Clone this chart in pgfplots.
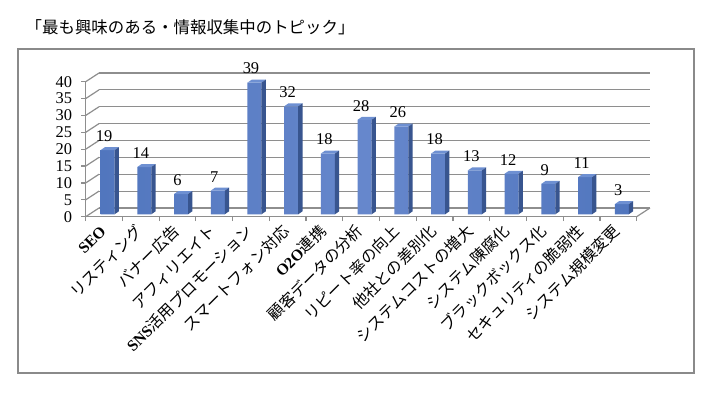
\documentclass[border=0pt]{standalone}
\usepackage{fontspec}
\setmainfont{Liberation Serif}
\newfontfamily\cjk{Noto Sans CJK JP}
\usepackage{pgfplots}
\pgfplotsset{compat=1.18}

\definecolor{barfront}{HTML}{5176BE}
\definecolor{barlight}{HTML}{6687CC}
\definecolor{barside}{HTML}{38558F}
\definecolor{bartop}{HTML}{6E90D2}
\definecolor{gridc}{HTML}{8E8E8E}
\definecolor{framec}{HTML}{8A8A8A}

% top and side faces of a 3D bar, drawn at the bar's data point
\pgfdeclareplotmark{bar3d}{%
  \pgfmathsetmacro\hh{\barh*3.375}%
  \pgfsetfillcolor{bartop}%
  \pgfpathmoveto{\pgfpoint{-3.5bp}{2.4bp}}%
  \pgfpathlineto{\pgfpoint{10.5bp}{2.4bp}}%
  \pgfpathlineto{\pgfpoint{14.8bp}{5.4bp}}%
  \pgfpathlineto{\pgfpoint{0.8bp}{5.4bp}}%
  \pgfpathclose
  \pgfusepath{fill}%
  \pgfsetfillcolor{barside}%
  \pgfpathmoveto{\pgfpoint{10.5bp}{2.4bp}}%
  \pgfpathlineto{\pgfpoint{14.8bp}{5.4bp}}%
  \pgfpathlineto{\pgfpoint{14.8bp}{5.4bp-\hh bp}}%
  \pgfpathlineto{\pgfpoint{10.5bp}{2.4bp-\hh bp}}%
  \pgfpathclose
  \pgfusepath{fill}%
}

\pgfplotstableread{
x y
0 19
1 14
2 6
3 7
4 39
5 32
6 18
7 28
8 26
9 18
10 13
11 12
12 9
13 11
14 3
}\datatab

\pgfplotsset{/pgf/number format/assume math mode=true}

\begin{document}
\begin{tikzpicture}
\useasboundingbox (0,0) rectangle (715bp,394bp);
\fill[white] (0,0) rectangle (715bp,394bp);
\draw[framec, line width=1.8bp] (18bp,21bp) rectangle (694bp,345bp);
\node[anchor=west, inner sep=0, font=\cjk\fontsize{16.5}{16.5}\selectfont] at (25.5bp,367bp) {「最も興味のある・情報収集中のトピック」};

% back wall with grid lines
\begin{axis}[
  at={(99bp,186bp)}, anchor=south west,
  x=36.73bp, y=3.375bp,
  xmin=-0.5, xmax=14.5, ymin=0, ymax=40,
  ytick={0,5,...,40}, yticklabels={},
  xtick=\empty,
  major tick length=0pt,
  ymajorgrids,
  grid style={gridc, line width=1.2bp},
  axis line style={draw=none},
]
\end{axis}

% front axes, floor and bars
\begin{axis}[
  at={(85.7bp,177.3bp)}, anchor=south west,
  x=36.73bp, y=3.375bp,
  xmin=-0.5, xmax=14.5, ymin=0, ymax=40,
  clip=false,
  axis x line*=bottom, axis y line*=left,
  axis line style={-, gridc, line width=1.2bp},
  ytick={0,5,...,40},
  xtick={-0.5,0.5,...,14.5},
  xticklabels={},
  tick align=outside,
  tick style={gridc, line width=1.2bp},
  major tick length=4.5bp,
  yticklabel style={font=\fontsize{16.5}{16.5}\selectfont, inner sep=0bp, xshift=-9bp},
  extra x ticks={0,1,...,14},
  extra x tick labels={{\bfseries SEO},{\cjk リスティング},{\cjk バナー広告},{\cjk アフィリエイト},{\bfseries SNS}{\cjk 活用プロモーション},{\cjk スマートフォン対応},{\bfseries O2O}{\cjk 連携},{\cjk 顧客データの分析},{\cjk リピート率の向上},{\cjk 他社との差別化},{\cjk システムコストの増大},{\cjk システム陳腐化},{\cjk ブラックボックス化},{\cjk セキュリティの脆弱性},{\cjk システム規模変更}},
  extra x tick style={major tick length=0pt,
    tick label style={xshift=-5bp, yshift=-7.8bp, rotate=45, anchor=north east, font=\fontsize{15.8}{15.8}\selectfont,
      inner sep=0bp, text height=11bp, text depth=2bp}},
]
\pgfplotsinvokeforeach{0,5,...,40}{
  \draw[gridc, line width=1.2bp] (axis cs:-0.5,#1) -- ++(13.3bp,8.7bp);
}
\draw[gridc, line width=1.2bp] (axis cs:14.5,0) -- ++(13.3bp,8.7bp);

\addplot[only marks, mark=bar3d, visualization depends on={y \as \barh}] table[x=x,y=y] {\datatab};
\addplot[ybar, bar width=14bp, bar shift=3.5bp, yshift=2.4bp, draw=none,
  left color=barfront, right color=barfront, middle color=barlight,
  nodes near coords,
  every node near coord/.append style={font=\fontsize{16.5}{16.5}\selectfont, anchor=south, yshift=5bp, text=black}]
  table[x=x,y=y] {\datatab};
\end{axis}
\end{tikzpicture}
\end{document}
